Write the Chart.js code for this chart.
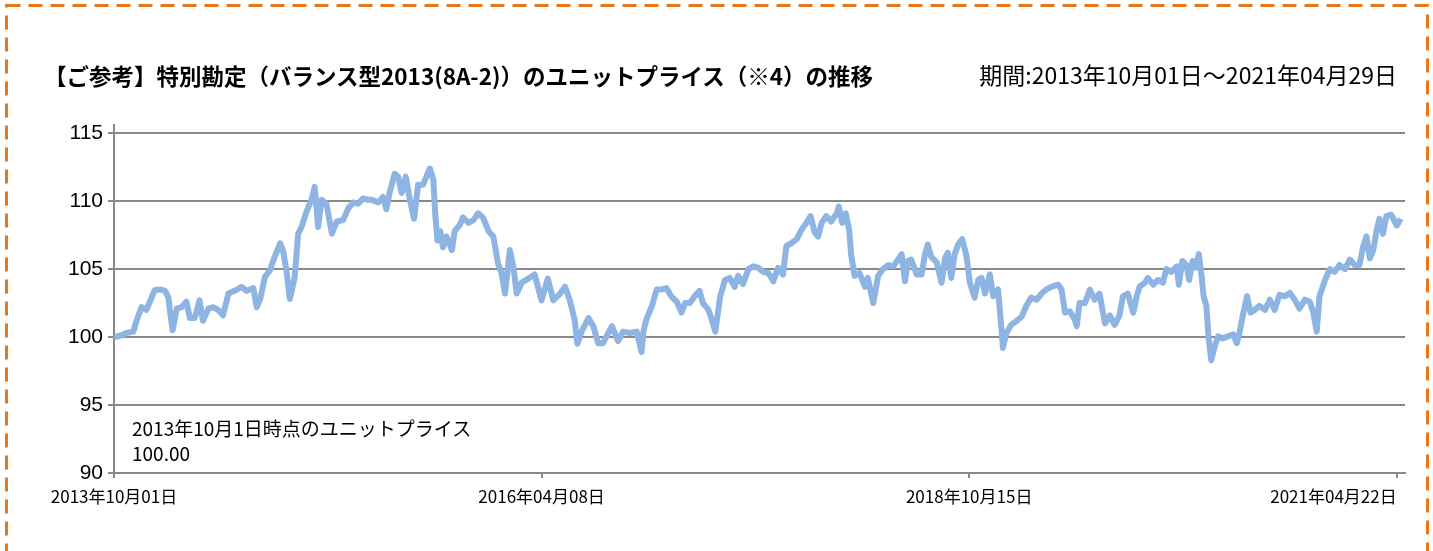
<!DOCTYPE html>
<html lang="ja">
<head>
<meta charset="utf-8">
<title>ユニットプライスの推移</title>
<script src="https://cdn.jsdelivr.net/npm/chart.js@4.4.1/dist/chart.umd.min.js"></script>
<style>
  html, body { margin: 0; padding: 0; background: #fff; }
  #wrap { position: relative; width: 1433px; height: 551px; overflow: hidden; }
  #chart { position: absolute; left: 0; top: 0; }
  .txt { position: absolute; white-space: nowrap; color: #000; font-family: "Noto Sans CJK JP", "Noto Sans", sans-serif; }
  #title { left: 44px; top: 59px; line-height: 32px; font-size: 22.5px; font-weight: bold; }
  #period { right: 36px; top: 58px; line-height: 32px; font-size: 23px; }
  #note { left: 132px; top: 415px; line-height: 25px; font-size: 19px; }
</style>
</head>
<body>
<div id="wrap">
  <canvas id="chart" width="1433" height="551"></canvas>
  <div class="txt" id="title">【ご参考】特別勘定（バランス型2013(8A-2)）のユニットプライス（※4）の推移</div>
  <div class="txt" id="period">期間:2013年10月01日～2021年04月29日</div>
  <div class="txt" id="note">2013年10月1日時点のユニットプライス<br>100.00</div>
</div>
<script>
// trading day index (from 2013-10-01) and unit price
const tradingDay = [
  0, 9, 18, 28, 33, 40, 47, 52, 59, 67, 74, 79, 81, 85, 91, 98, 105, 110, 117, 124,
  129, 137, 144, 151, 158, 166, 175, 185, 192, 202, 207, 212, 219, 226, 233, 241, 245, 250, 255, 262,
  267, 272, 279, 287, 291, 296, 301, 308, 316, 323, 332, 340, 347, 354, 361, 369, 374, 383, 390, 395,
  400, 407, 412, 417, 423, 429, 435, 441, 448, 453, 458, 463, 466, 469, 473, 477, 482, 490, 494, 502,
  506, 514, 521, 528, 535, 543, 550, 557, 562, 567, 574, 579, 584, 591, 601, 610, 620, 629, 637, 647,
  654, 661, 668, 672, 678, 688, 695, 702, 709, 722, 731, 738, 748, 758, 765, 768, 772, 780, 787, 794,
  801, 808, 816, 823, 828, 835, 842, 849, 854, 862, 866, 872, 879, 886, 893, 900, 905, 912, 920, 927,
  934, 941, 949, 956, 963, 970, 975, 982, 990, 997, 1004, 1010, 1016, 1021, 1026, 1033, 1040, 1048, 1051, 1056,
  1061, 1066, 1069, 1074, 1081, 1089, 1093, 1101, 1108, 1115, 1123, 1130, 1137, 1142, 1147, 1151, 1156, 1164, 1171, 1176,
  1180, 1185, 1193, 1200, 1205, 1209, 1214, 1219, 1224, 1230, 1236, 1241, 1248, 1253, 1258, 1263, 1270, 1275, 1282, 1287,
  1289, 1294, 1301, 1309, 1316, 1323, 1330, 1338, 1345, 1352, 1359, 1369, 1374, 1379, 1386, 1393, 1396, 1400, 1408, 1415,
  1422, 1429, 1437, 1444, 1451, 1458, 1463, 1470, 1478, 1483, 1487, 1495, 1499, 1507, 1514, 1521, 1526, 1533, 1541, 1544,
  1549, 1555, 1559, 1564, 1569, 1573, 1577, 1580, 1584, 1587, 1591, 1596, 1601, 1608, 1615, 1623, 1628, 1632, 1637, 1643,
  1648, 1654, 1661, 1669, 1676, 1683, 1690, 1698, 1705, 1712, 1719, 1727, 1734, 1739, 1744, 1748, 1756, 1763, 1770, 1777,
  1785, 1792, 1799, 1806, 1811, 1816, 1821, 1826, 1831, 1835, 1840, 1845, 1852, 1860, 1866
];
const unitPrice = [
  100.0, 100.1, 100.3, 100.4, 101.25, 102.2, 102.0, 102.6, 103.45, 103.5, 103.4, 102.9, 102.0, 100.5, 102.1, 102.2, 102.6, 101.4, 101.4, 102.7,
  101.2, 102.1, 102.2, 102.0, 101.6, 103.2, 103.4, 103.7, 103.4, 103.6, 102.2, 102.8, 104.45, 104.9, 105.9, 106.9, 106.4, 104.9, 102.8, 104.4,
  107.6, 108.1, 109.2, 110.2, 111.05, 108.1, 110.1, 109.8, 107.6, 108.5, 108.6, 109.5, 109.9, 109.8, 110.2, 110.1, 110.1, 109.9, 110.3, 109.4,
  110.7, 112.0, 111.8, 110.6, 111.8, 110.1, 108.7, 111.2, 111.2, 111.8, 112.4, 111.6, 108.9, 107.1, 107.8, 106.6, 107.4, 106.4, 107.8, 108.3,
  108.8, 108.4, 108.6, 109.1, 108.8, 107.8, 107.4, 105.4, 104.7, 103.2, 106.4, 105.2, 103.2, 104.0, 104.3, 104.6, 102.7, 104.3, 102.7, 103.2,
  103.7, 102.7, 101.25, 99.5, 100.4, 101.4, 100.8, 99.55, 99.55, 100.8, 99.7, 100.4, 100.3, 100.4, 98.9, 100.5, 101.3, 102.3, 103.5, 103.5,
  103.6, 103.0, 102.6, 101.8, 102.5, 102.5, 103.0, 103.4, 102.5, 102.0, 101.4, 100.4, 103.0, 104.2, 104.35, 103.7, 104.5, 103.9, 105.0, 105.2,
  105.1, 104.8, 104.7, 104.1, 105.1, 104.6, 106.7, 106.9, 107.2, 107.9, 108.4, 108.9, 107.7, 107.4, 108.4, 108.9, 108.5, 109.1, 109.6, 108.4,
  109.1, 107.9, 106.0, 104.5, 104.7, 103.7, 104.35, 102.5, 104.5, 105.0, 105.3, 105.2, 105.7, 106.1, 104.1, 105.6, 105.7, 104.6, 104.6, 106.1,
  106.8, 105.9, 105.5, 104.0, 105.8, 106.2, 104.35, 106.1, 106.8, 107.2, 106.0, 104.0, 102.9, 104.2, 104.35, 103.2, 104.6, 103.0, 103.5, 100.5,
  99.2, 100.3, 100.9, 101.2, 101.5, 102.3, 102.9, 102.75, 103.2, 103.5, 103.7, 103.85, 103.5, 101.8, 101.9, 101.3, 100.8, 102.5, 102.5, 103.5,
  102.75, 103.2, 101.0, 101.6, 100.9, 101.6, 103.0, 103.2, 101.8, 103.0, 103.7, 104.0, 104.35, 103.85, 104.2, 104.0, 105.0, 104.8, 105.2, 103.85,
  105.6, 105.3, 104.2, 105.6, 105.1, 106.1, 104.5, 103.0, 102.3, 100.05, 98.3, 99.3, 100.05, 99.9, 100.05, 100.2, 99.55, 100.3, 101.65, 103.0,
  101.8, 102.0, 102.3, 102.0, 102.75, 102.0, 103.1, 103.0, 103.25, 102.75, 102.1, 102.75, 102.6, 101.8, 100.4, 103.0, 104.2, 105.0, 104.8, 105.3,
  105.0, 105.7, 105.3, 105.3, 106.6, 107.4, 105.8, 106.4, 107.9, 108.7, 107.6, 108.9, 109.0, 108.2, 108.7
];

const xTickDays = [0, 620, 1240, 1860];
const xTickLabels = ["2013年10月01日", "2016年04月08日", "2018年10月15日", "2021年04月22日"];
const yTicks = [90, 95, 100, 105, 110, 115];

const axisGray = "#898989";

const points = tradingDay.map((d, i) => ({ x: d, y: unitPrice[i] }));

// orange dashed frame + x tick labels (last one sits left of its tick)
const framePlugin = {
  id: "frame",
  beforeDraw(chart) {
    const ctx = chart.ctx;
    ctx.save();
    ctx.fillStyle = "#fff";
    ctx.fillRect(0, 0, chart.width, chart.height);
    ctx.strokeStyle = "#E8761A";
    ctx.lineWidth = 3;
    ctx.setLineDash([14, 8]);
    ctx.strokeRect(6.5, 5.5, 1421, 560);
    ctx.restore();
  },
  afterDraw(chart) {
    const ctx = chart.ctx;
    const xs = chart.scales.x;
    ctx.save();
    ctx.fillStyle = "#000";
    ctx.font = '17px "Noto Sans CJK JP", sans-serif';
    ctx.textBaseline = "middle";
    xTickDays.forEach((d, i) => {
      const px = xs.getPixelForValue(d);
      ctx.textAlign = i === xTickDays.length - 1 ? "right" : "center";
      ctx.fillText(xTickLabels[i], px, 497);
    });
    ctx.restore();
  },
};

new Chart(document.getElementById("chart").getContext("2d"), {
  type: "line",
  data: {
    datasets: [
      {
        data: points,
        borderColor: "#8DB4E2",
        borderWidth: 6,
        borderJoinStyle: "round",
        pointRadius: 0,
        tension: 0,
        fill: false,
      },
    ],
  },
  options: {
    responsive: false,
    animation: false,
    layout: { padding: { left: 0, right: 28, top: 125, bottom: 0 } },
    plugins: {
      legend: { display: false },
      tooltip: { enabled: false },
    },
    scales: {
      x: {
        type: "linear",
        min: 0,
        max: 1872,
        afterBuildTicks: (s) => {
          s.ticks = xTickDays.map((v) => ({ value: v }));
        },
        afterFit: (s) => {
          s.height = 78;
        },
        ticks: { display: false },
        grid: {
          drawOnChartArea: false,
          drawTicks: true,
          tickLength: 5,
          color: axisGray,
          lineWidth: 2,
        },
        border: { display: true, color: axisGray, width: 2 },
      },
      y: {
        min: 90,
        max: 115.6,
        afterBuildTicks: (s) => {
          s.ticks = yTicks.map((v) => ({ value: v }));
        },
        afterFit: (s) => {
          s.width = 114;
        },
        ticks: {
          color: "#000",
          padding: 5,
          font: { family: '"Liberation Sans", Arial, sans-serif', size: 21 },
        },
        grid: {
          color: axisGray,
          lineWidth: 2,
          drawTicks: true,
          tickLength: 6,
        },
        border: { display: true, color: axisGray, width: 2 },
      },
    },
  },
  plugins: [framePlugin],
});
</script>
</body>
</html>
